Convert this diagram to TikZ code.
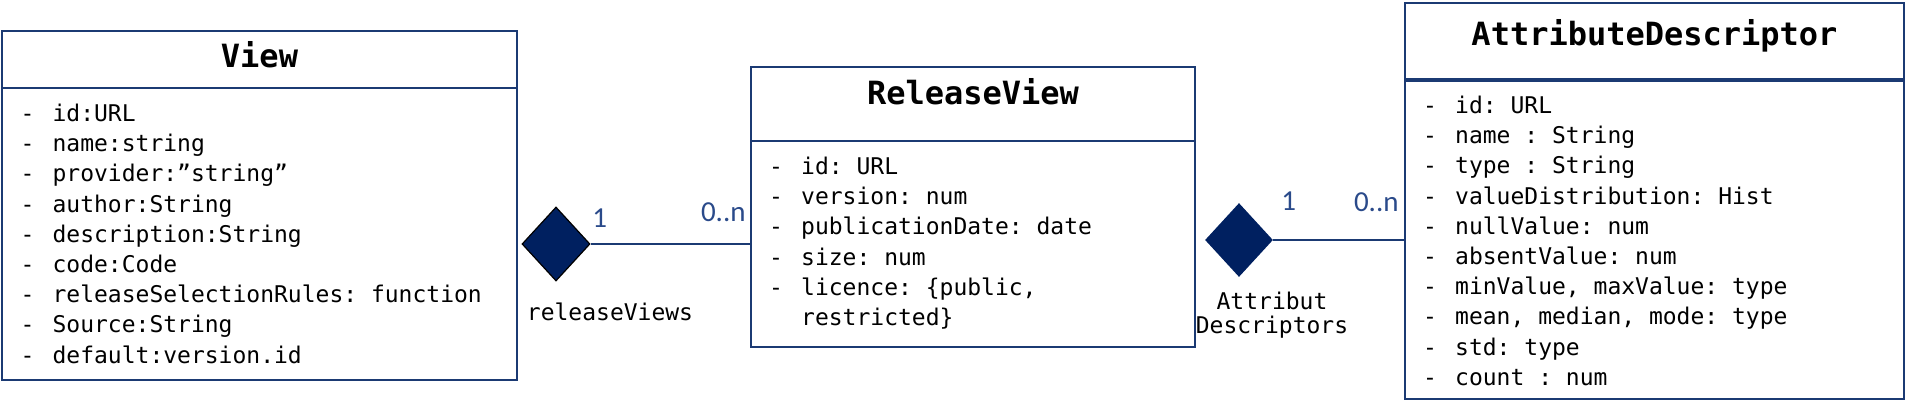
\documentclass[tikz,border=0pt]{standalone}
\usepackage{fontspec}
\usepackage{xcolor}
\usepackage{tikz}
\usetikzlibrary{positioning,shapes.geometric}
\setmonofont{DejaVu Sans Mono}
\newfontfamily\multfont{Carlito}
\definecolor{umlnavy}{HTML}{002060}
\definecolor{umlline}{HTML}{1B3A73}
\definecolor{umlmult}{HTML}{2A4A8A}
\newcommand{\fld}[1]{\strut\makebox[16pt][l]{-}#1}

\begin{document}
\begin{tikzpicture}[
  x=0.5pt, y=-0.5pt,
  head/.style={draw=umlline, line width=1.1pt, outer sep=0pt, inner sep=0pt,
    text height=12pt, font=\fontsize{16pt}{19pt}\selectfont\ttfamily\bfseries},
  body/.style={draw=umlline, line width=1.1pt, outer sep=0pt, inner sep=0pt},
  fields/.style={inner sep=0pt, outer sep=0pt, align=left,
    font=\fontsize{11.5pt}{15.1pt}\selectfont\ttfamily},
  agg/.style={diamond, fill=umlnavy, inner sep=0pt, minimum width=34pt,
    minimum height=37pt},
  assoc/.style={draw=umlline, line width=0.8pt},
  mult/.style={inner sep=0pt, text=umlmult, font=\fontsize{14.5pt}{16pt}\multfont},
  role/.style={inner sep=0pt, align=center,
    font=\fontsize{11.5pt}{12pt}\selectfont\ttfamily}
]
\useasboundingbox (0,0) rectangle (1906,406);
\node[head, anchor=north west, minimum width=257.5pt, minimum height=28.5pt,
  text depth=3.8pt] (viewhead) at (2,31) {View};
\node[body, below=0pt of viewhead, minimum width=257.5pt, minimum height=146pt] (viewbody) {};
\node[fields, below right=6.2pt and 9.3pt of viewbody.north west] (viewfields) {%
  \fld{id:URL}\\
  \fld{name:string}\\
  \fld{provider:”string”}\\
  \fld{author:String}\\
  \fld{description:String}\\
  \fld{code:Code}\\
  \fld{releaseSelectionRules: function}\\
  \fld{Source:String}\\
  \fld{default:version.id}};

\node[head, anchor=north west, minimum width=222pt, minimum height=37pt,
  text depth=11pt] (relhead) at (751,67) {ReleaseView};
\node[body, below=0pt of relhead, minimum width=222pt, minimum height=103pt] (relbody) {};
\node[fields, below right=6.2pt and 9.1pt of relbody.north west] (relfields) {%
  \fld{id: URL}\\
  \fld{version: num}\\
  \fld{publicationDate: date}\\
  \fld{size: num}\\
  \fld{licence: \{public,}\\
  \strut\hspace{16pt}restricted\}};

\node[head, anchor=north west, minimum width=249.5pt, minimum height=38.5pt,
  text depth=7.6pt] (attrhead) at (1405,3) {AttributeDescriptor};
\node[body, below=0pt of attrhead, minimum width=249.5pt, minimum height=159.5pt] (attrbody) {};
\draw[umlline, line width=2.4pt] (attrhead.south west) -- (attrhead.south east);
\node[fields, below right=6.2pt and 9.1pt of attrbody.north west] (attrfields) {%
  \fld{id: URL}\\
  \fld{name : String}\\
  \fld{type : String}\\
  \fld{valueDistribution: Hist}\\
  \fld{nullValue: num}\\
  \fld{absentValue: num}\\
  \fld{minValue, maxValue: type}\\
  \fld{mean, median, mode: type}\\
  \fld{std: type}\\
  \fld{count : num}};

\node[agg, draw=black, line width=0.6pt] (relagg) at (556,244) {};
\draw[assoc] (relagg.east) -- (relagg.east -| relbody.west);
\node[mult, anchor=base west] (relone) at (592,228) {1};
\node[mult, anchor=base east] (relmany) at (746,222) {0..n};
\node[role] (relrole) at (610,311.5) {releaseViews};

\node[agg] (attragg) at (1239,240) {};
\draw[assoc] (attragg.east) -- (attragg.east -| attrbody.west);
\node[mult, anchor=base west] (attrone) at (1281,211) {1};
\node[mult, anchor=base east] (attrmany) at (1399,212) {0..n};
\node[role] (attrrole) at (1272,315.5) {Attribut\\Descriptors};
\end{tikzpicture}
\end{document}
